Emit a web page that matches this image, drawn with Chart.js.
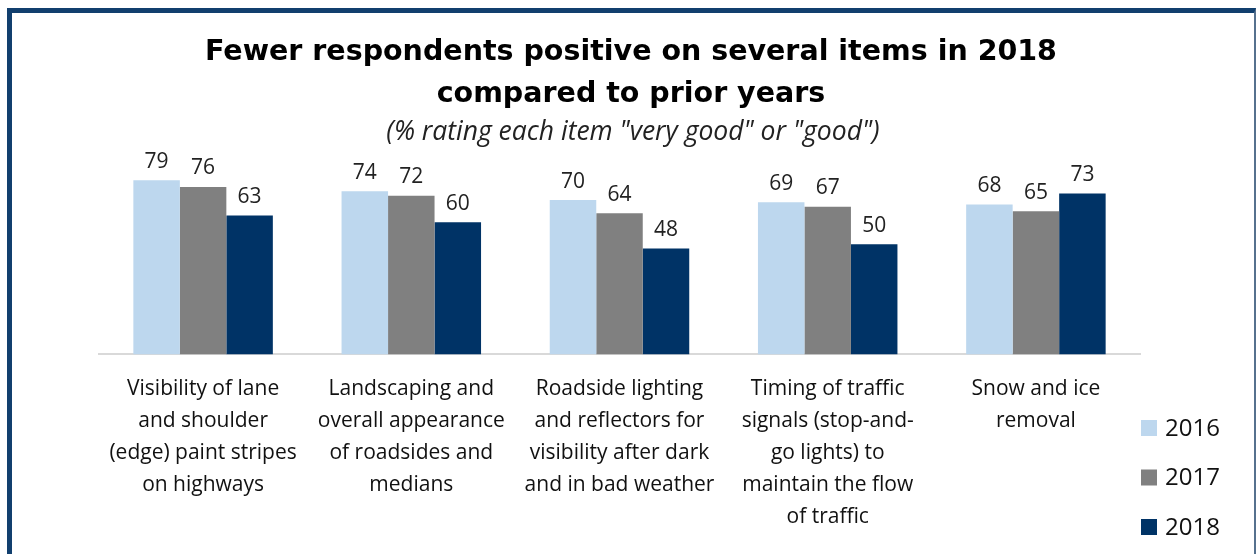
<!DOCTYPE html>
<html>
<head>
<meta charset="utf-8">
<script src="https://cdn.jsdelivr.net/npm/chart.js@4/dist/chart.umd.min.js"></script>
<style>
  html, body { margin: 0; padding: 0; background: #fff; }
  body { width: 1256px; height: 554px; position: relative; overflow: hidden; }
  .frame { position: absolute; left: 7px; top: 8px; right: 0; bottom: -20px; border-top: 5px solid #113f6e; border-left: 5px solid #113f6e; border-right: 2px solid #56718e; pointer-events: none; }
  .title { position: absolute; left: 0; width: 1262px; text-align: center; font-family: "DejaVu Sans", sans-serif; font-weight: bold; font-size: 28.5px; color: #000; }
  .sub { position: absolute; left: 0; width: 1266px; top: 112px; text-align: center; font-family: "Open Sans", sans-serif; font-style: italic; font-size: 26.5px; color: #222; }
  #wrap { position: absolute; left: 0; top: 0; width: 1256px; height: 554px; }
</style>
</head>
<body>
<div id="wrap"><canvas id="chart"></canvas></div>
<div class="title" style="top:34px">Fewer respondents positive on several items in 2018</div>
<div class="title" style="top:76px">compared to prior years</div>
<div class="sub">(% rating each item "very good" or "good")</div>
<div class="frame"></div>
<script>
const categories = [
  ['Visibility of lane', 'and shoulder', '(edge) paint stripes', 'on highways'],
  ['Landscaping and', 'overall appearance', 'of roadsides and', 'medians'],
  ['Roadside lighting', 'and reflectors for', 'visibility after dark', 'and in bad weather'],
  ['Timing of traffic', 'signals (stop-and-', 'go lights) to', 'maintain the flow', 'of traffic'],
  ['Snow and ice', 'removal']
];
const years = ['2016', '2017', '2018'];
const values2016 = [79, 74, 70, 69, 68];
const values2017 = [76, 72, 64, 67, 65];
const values2018 = [63, 60, 48, 50, 73];
const colors = ['#bdd7ee', '#808080', '#003366'];

// value labels above the bars
const barLabels = {
  id: 'barLabels',
  afterDatasetsDraw(chart) {
    const ctx = chart.ctx;
    ctx.save();
    ctx.font = '21px "Open Sans"';
    ctx.fillStyle = '#222';
    ctx.textAlign = 'center';
    ctx.textBaseline = 'bottom';
    chart.data.datasets.forEach((ds, i) => {
      chart.getDatasetMeta(i).data.forEach((bar, j) => {
        ctx.fillText(ds.data[j], bar.x, bar.y - 8);
      });
    });
    ctx.restore();
  }
};

// legend stacked at the lower right
const sideLegend = {
  id: 'sideLegend',
  afterDraw(chart) {
    const ctx = chart.ctx;
    ctx.save();
    ctx.font = '24px "Open Sans"';
    ctx.textBaseline = 'middle';
    ctx.textAlign = 'left';
    chart.data.datasets.forEach((ds, i) => {
      const y = 428 + i * 49.5;
      ctx.fillStyle = ds.backgroundColor;
      ctx.fillRect(1141, y - 8, 16, 16);
      ctx.fillStyle = '#111';
      ctx.fillText(ds.label, 1165, y + 1);
    });
    ctx.restore();
  }
};

new Chart(document.getElementById('chart'), {
  type: 'bar',
  data: {
    labels: categories,
    datasets: [
      { label: years[0], data: values2016, backgroundColor: colors[0] },
      { label: years[1], data: values2017, backgroundColor: colors[1] },
      { label: years[2], data: values2018, backgroundColor: colors[2] }
    ]
  },
  options: {
    responsive: true, maintainAspectRatio: false, animation: false,
    layout: { padding: { left: 99, right: 116, top: 134, bottom: 10 } },
    datasets: { bar: { barPercentage: 1, categoryPercentage: 0.67 } },
    plugins: { legend: { display: false }, tooltip: { enabled: false } },
    scales: {
      y: { display: false, min: 0, max: 100 },
      x: {
        grid: { display: false },
        border: { display: true, color: '#d9d9d9', width: 2 },
        ticks: { autoSkip: false, maxRotation: 0, padding: 11, color: '#111', font: { family: 'Open Sans', size: 21, lineHeight: 1.52 } }
      }
    }
  },
  plugins: [barLabels, sideLegend]
});
</script>
</body>
</html>
